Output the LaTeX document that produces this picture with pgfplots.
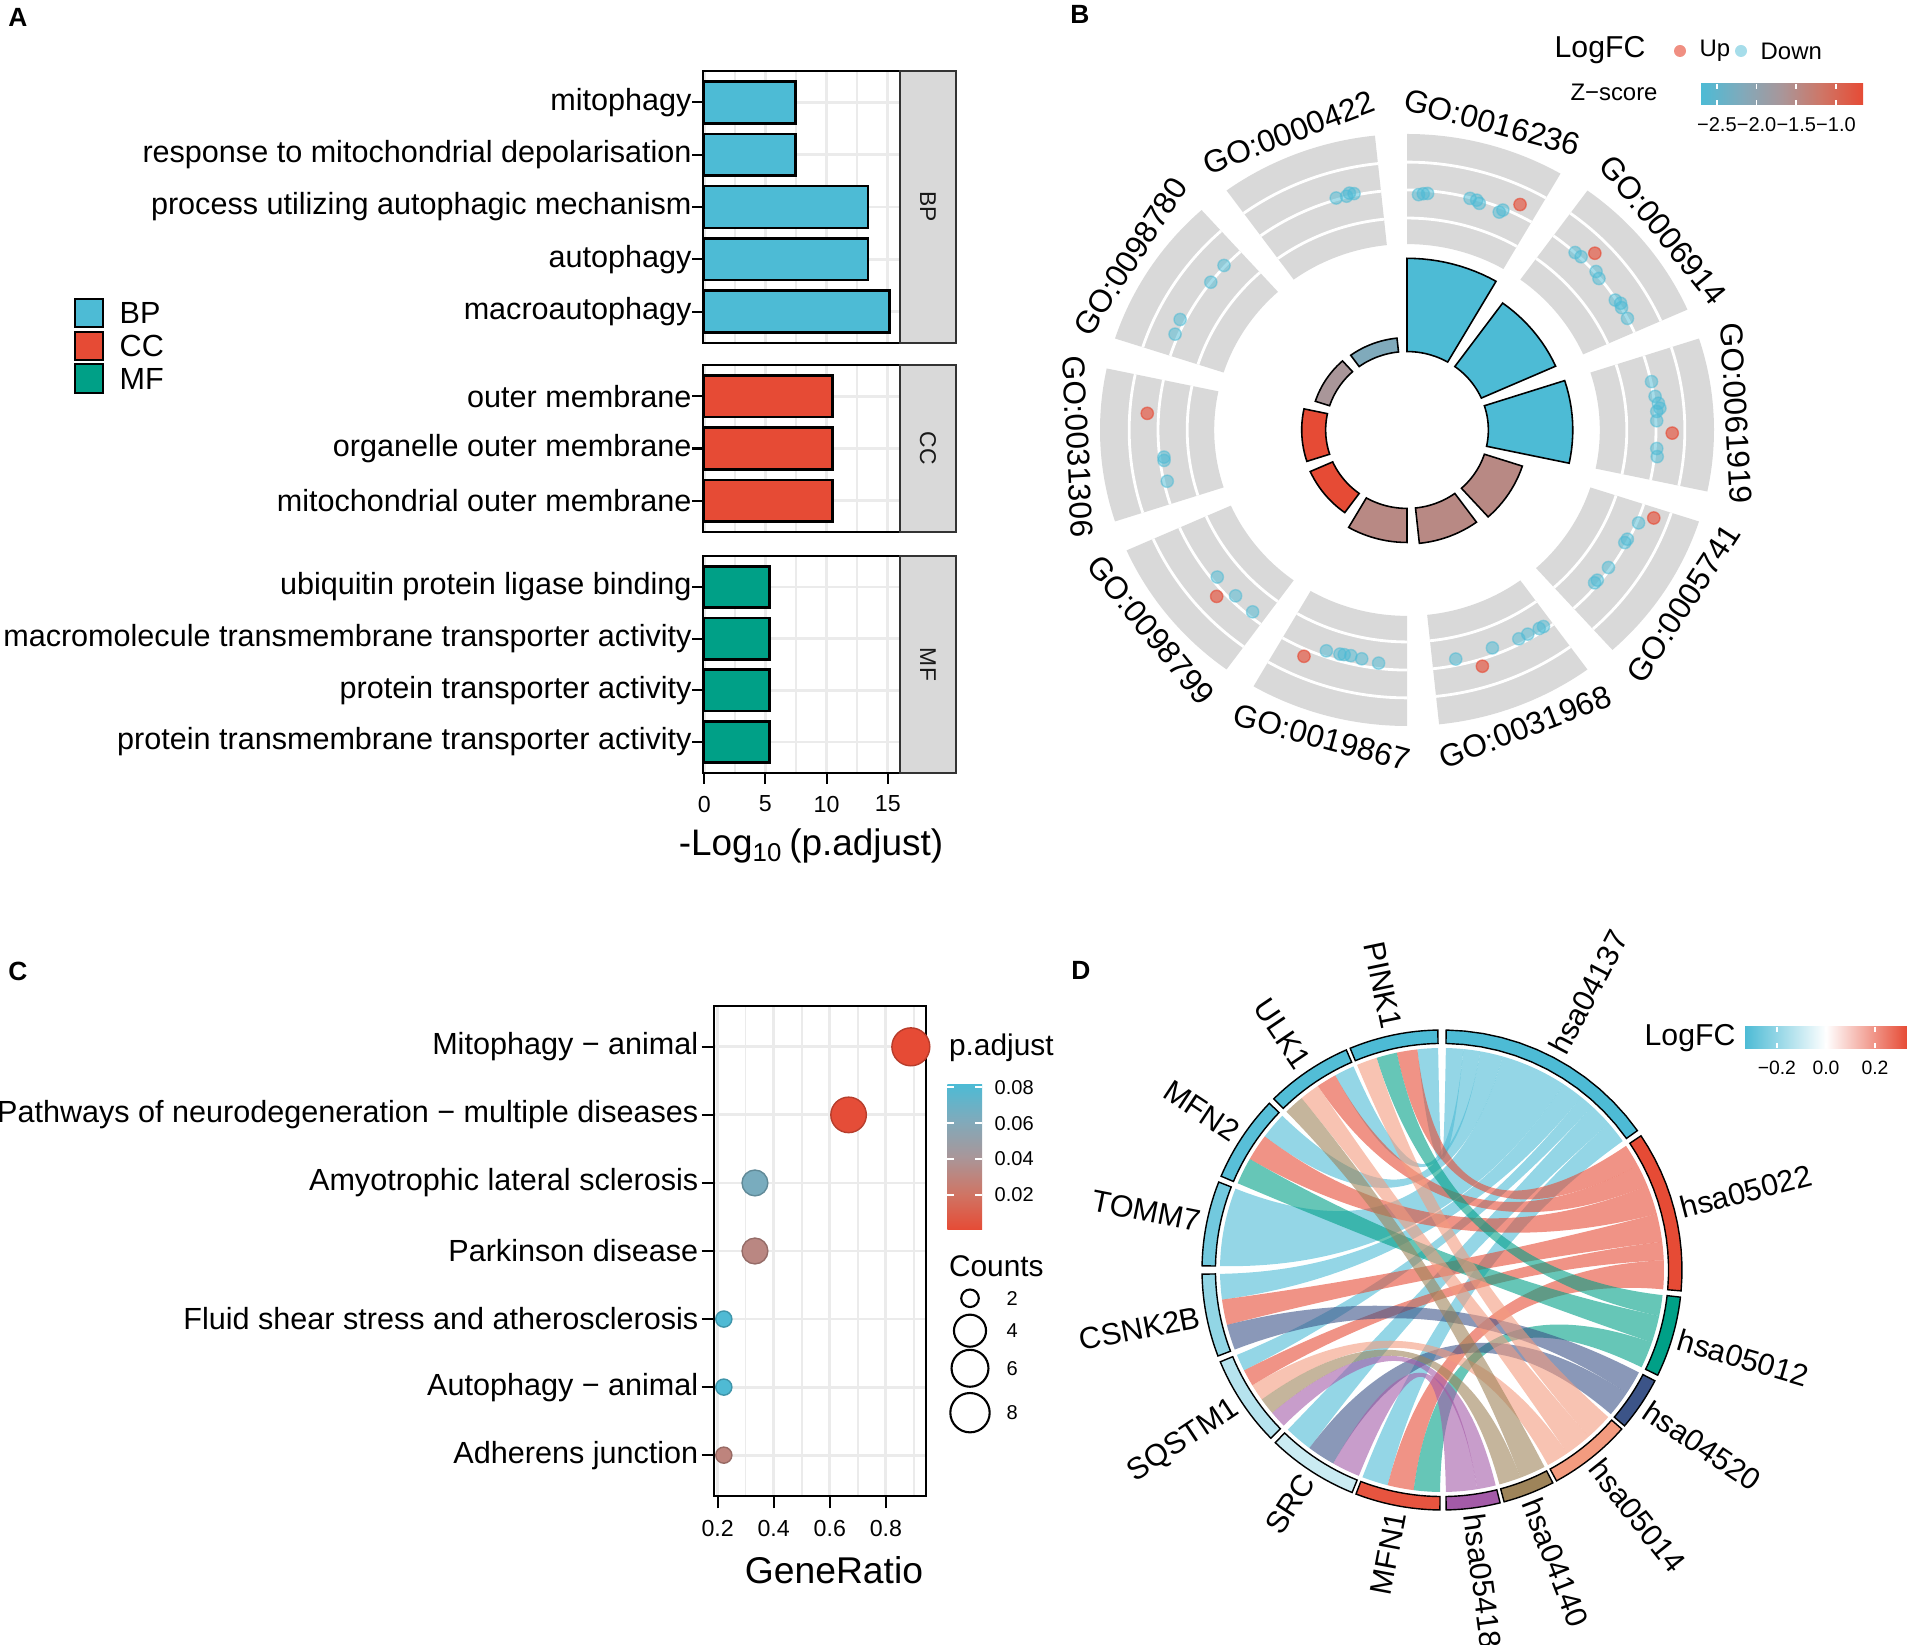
\documentclass[border=0pt]{standalone}
\usepackage{fontspec}
\setmainfont{Liberation Sans}
\usepackage{pgfplots}
\usepackage{pgfplotstable}
\pgfplotsset{compat=1.18}

\newcommand\fs[1]{\fontsize{#1}{#1}\selectfont}

% npg-like palette
\definecolor{npgblue}{HTML}{4DBBD5}
\definecolor{npgred}{HTML}{E64B35}
\definecolor{npggreen}{HTML}{00A087}
\definecolor{npgnavy}{HTML}{3C5488}
\definecolor{npgsalmon}{HTML}{F39B7F}
\definecolor{pathpurple}{HTML}{A45BA8}
\definecolor{pathbrown}{HTML}{9E845A}
\definecolor{gridgrey}{HTML}{EBEBEB}
\definecolor{stripgrey}{HTML}{D9D9D9}
\definecolor{stripline}{HTML}{333333}
\definecolor{ringgrey}{HTML}{D9D9D9}
% gradient stops red -> blue
\definecolor{cmA}{HTML}{E64B35}
\definecolor{cmB}{HTML}{CF7565}
\definecolor{cmC}{HTML}{A99699}
\definecolor{cmD}{HTML}{80AABB}
\definecolor{cmE}{HTML}{4DBBD5}
\colorlet{zrose}{cmB!40!cmC}

\pgfdeclareverticalshading{padjbar}{100bp}{color(0bp)=(cmA); color(25bp)=(cmA); color(37.5bp)=(cmB); color(50bp)=(cmC); color(62.5bp)=(cmD); color(75bp)=(cmE); color(100bp)=(cmE)}
\pgfdeclarehorizontalshading{zbar}{100bp}{color(0bp)=(cmE); color(25bp)=(cmE); color(37.5bp)=(cmD); color(50bp)=(cmC); color(62.5bp)=(cmB); color(75bp)=(cmA); color(100bp)=(cmA)}
\pgfdeclarehorizontalshading{fcbar}{100bp}{color(0bp)=(npgblue); color(25bp)=(npgblue); color(50bp)=(white); color(75bp)=(npgred); color(100bp)=(npgred)}

% KEGG dot plot data
\pgfplotstableread{
ratio row count padj
0.889 1 8 0.0004
0.667 2 6 0.0015
0.333 3 3 0.0640
0.333 4 3 0.0320
0.222 5 2 0.0810
0.222 6 2 0.0810
0.222 7 2 0.0300
}\keggdata

% sector between two angles and two radii, drawn through the axis (data cs=polar)
\newcommand\polarband[5]{%
  \def\bandpts{}%
  \pgfplotsforeachungrouped \ii in {0,...,12}{%
    \pgfmathsetmacro\aa{#2+(#3-#2)*\ii/12}%
    \edef\bandpts{\bandpts (\aa,#5)}}%
  \pgfplotsforeachungrouped \ii in {0,...,12}{%
    \pgfmathsetmacro\aa{#3+(#2-#3)*\ii/12}%
    \edef\bandpts{\bandpts (\aa,#4)}}%
  \edef\next{\noexpand\addplot[data cs=polar,\unexpanded{#1}] coordinates {\bandpts} -- cycle;}%
  \next}

% chord ribbon: gene arc #1-#2, pathway arc #3-#4
\newcommand\ribbon[5]{%
  \fill[#5, fill opacity=0.6] (#1:0.925) arc[start angle=#1, end angle=#2, radius=0.925]
    .. controls (#2:0.308) and (#3:0.308) .. (#3:0.925)
    arc[start angle=#3, end angle=#4, radius=0.925]
    .. controls (#4:0.308) and (#1:0.308) .. cycle;}

\pgfplotsset{
  gg/.style={
    scale only axis,
    axis line style={line width=0.8pt},
    major grid style={line width=0.8pt, draw=gridgrey},
    minor grid style={line width=0.45pt, draw=gridgrey},
    tick align=outside, tick pos=left,
    major tick length=3pt, minor tick length=0pt,
    tick style={line width=0.6pt, black},
    /pgf/number format/assume math mode=true,
    xticklabel style={font=\fs{6.6}},
    yticklabel style={font=\fs{8.7}, xshift=0.115cm},
  },
  gobar/.style={xbar, bar width=0.8, xmin=-0.1, xmax=16, y dir=reverse,
    xtick={0,5,10,15}, minor xtick={2.5,7.5,12.5},
    xmajorgrids, xminorgrids, ymajorgrids},
}

\begin{document}
\begin{tikzpicture}
\path[use as bounding box] (0,0) rectangle (19.07,16.45);

% panel letters
\node[font=\bfseries\fs{7.5}] at (0.18,16.28) {A};
\node[font=\bfseries\fs{7.5}] at (10.80,16.31) {B};
\node[font=\bfseries\fs{7.5}] at (0.18,6.74) {C};
\node[font=\bfseries\fs{7.5}] at (10.81,6.75) {D};

%================ A : GO enrichment bars
\begin{axis}[gg, gobar, at={(7.03cm,15.74cm)}, anchor=north west,
  width=1.97cm, height=2.72cm, ymin=0.4, ymax=5.6,
  xticklabels={}, xtick style={draw=none},
  ytick={1,...,5},
  yticklabels={mitophagy, response to mitochondrial depolarisation,
    process utilizing autophagic mechanism, autophagy, macroautophagy}]
\addplot[fill=npgblue, draw=black, line width=0.7pt]
  coordinates {(7.45,1) (7.45,2) (13.37,3) (13.37,4) (15.13,5)};
\end{axis}

\begin{axis}[gg, gobar, at={(7.03cm,12.80cm)}, anchor=north west,
  width=1.97cm, height=1.67cm, ymin=0.4, ymax=3.6,
  xticklabels={}, xtick style={draw=none},
  ytick={1,2,3},
  yticklabels={outer membrane, organelle outer membrane, mitochondrial outer membrane}]
\addplot[fill=npgred, draw=black, line width=0.7pt]
  coordinates {(10.5,1) (10.5,2) (10.5,3)};
\end{axis}

\begin{axis}[gg, gobar, at={(7.03cm,10.89cm)}, anchor=north west,
  width=1.97cm, height=2.17cm, ymin=0.4, ymax=4.6,
  ytick={1,...,4},
  yticklabels={ubiquitin protein ligase binding,
    macromolecule transmembrane transporter activity,
    protein transporter activity, protein transmembrane transporter activity}]
\addplot[fill=npggreen, draw=black, line width=0.7pt]
  coordinates {(5.33,1) (5.33,2) (5.33,3) (5.33,4)};
\end{axis}

% facet strips
\draw[stripline, line width=0.4pt, fill=stripgrey] (9.00,15.74) rectangle (9.56,13.02);
\draw[stripline, line width=0.4pt, fill=stripgrey] (9.00,12.80) rectangle (9.56,11.13);
\draw[stripline, line width=0.4pt, fill=stripgrey] (9.00,10.89) rectangle (9.56,8.72);
\node[rotate=-90, font=\fs{6.5}, text=black!90] at (9.28,14.38) {BP};
\node[rotate=-90, font=\fs{6.5}, text=black!90] at (9.28,11.965) {CC};
\node[rotate=-90, font=\fs{6.5}, text=black!90] at (9.28,9.805) {MF};

\node[anchor=base, font=\fs{10.5}] at (8.11,7.89) {-Log\textsubscript{10}\,(p.adjust)};

% legend A
\draw[line width=0.6pt, fill=npgblue] (0.75,13.18) rectangle (1.03,13.46);
\draw[line width=0.6pt, fill=npgred] (0.75,12.85) rectangle (1.03,13.13);
\draw[line width=0.6pt, fill=npggreen] (0.75,12.52) rectangle (1.03,12.81);
\node[anchor=west, inner sep=0pt, font=\fs{8.7}] at (1.19,13.32) {BP};
\node[anchor=west, inner sep=0pt, font=\fs{8.7}] at (1.19,12.99) {CC};
\node[anchor=west, inner sep=0pt, font=\fs{8.7}] at (1.19,12.665) {MF};

%================ B : GO circle
\begin{scope}[shift={(14.07,12.15)}, x=3.07cm, y=2.96cm]
  \foreach \a in {90,54,18,-18,-54,-90,-126,-162,-198,-234} {
    \fill[ringgrey] (\a:0.628) -- (\a:1) arc[start angle=\a, end angle={\a-30}, radius=1]
      -- ({\a-30}:0.628) arc[start angle={\a-30}, end angle=\a, radius=0.628] -- cycle;
    \foreach \r in {0.716,0.811,0.905}
      \draw[white, line width=0.8pt] (\a:\r) arc[start angle=\a, end angle={\a-30}, radius=\r];
  }
  \foreach \m/\t in {75/GO:0016236, 39/GO:0006914, 3/GO:0061919, 147/GO:0098780, 111/GO:0000422}
    \node[font=\fs{9}, inner sep=0pt, anchor=south, rotate={\m-90}] at (\m:1.035) {\t};
  \foreach \m/\t in {-33/GO:0005741, -69/GO:0031968, -105/GO:0019867, -141/GO:0098799, -177/GO:0031306}
    \node[font=\fs{9}, inner sep=0pt, anchor=north, rotate={\m+90}] at (\m:1.035) {\t};
\end{scope}

\begin{axis}[hide axis, at={(14.07cm,12.15cm)}, anchor=origin, x=3.07cm, y=2.96cm,
  xmin=-1.2, xmax=1.2, ymin=-1.2, ymax=1.2, clip=false]
  \polarband{fill=npgblue, draw=black, line width=0.45pt}{90}{60}{0.265}{0.58}
  \polarband{fill=npgblue, draw=black, line width=0.45pt}{54}{24}{0.265}{0.53}
  \polarband{fill=npgblue, draw=black, line width=0.45pt}{18}{-12}{0.265}{0.54}
  \polarband{fill=zrose, draw=black, line width=0.45pt}{-18}{-48}{0.265}{0.395}
  \polarband{fill=zrose, draw=black, line width=0.45pt}{-54}{-84}{0.265}{0.385}
  \polarband{fill=zrose, draw=black, line width=0.45pt}{-90}{-120}{0.265}{0.38}
  \polarband{fill=npgred, draw=black, line width=0.45pt}{-126}{-156}{0.265}{0.345}
  \polarband{fill=npgred, draw=black, line width=0.45pt}{-162}{-192}{0.265}{0.343}
  \polarband{fill=cmC, draw=black, line width=0.45pt}{-198}{-228}{0.265}{0.314}
  \polarband{fill=cmD, draw=black, line width=0.45pt}{-234}{-264}{0.265}{0.312}
  % down-regulated genes
  \addplot[data cs=polar, only marks, mark=*, mark size=1.75pt, color=npgblue, opacity=0.5]
    coordinates {
    (87.3,0.796) (86.2,0.800) (85.2,0.802) (75.3,0.809) (73.7,0.809) (72.9,0.801) (67.8,0.795) (67.2,0.806)
    (47.6,0.812) (45.9,0.815) (41.0,0.816) (39.3,0.808) (32.9,0.808) (31.6,0.817) (30.6,0.812) (27.7,0.811)
    (11.6,0.813) (8.0,0.816) (6.3,0.824) (5.1,0.827) (4.4,0.816) (2.2,0.814) (-4.4,0.816) (-6.3,0.820)
    (-22.6,0.817) (-27.2,0.807) (-28.2,0.805) (-35.3,0.804) (-39.3,0.801) (-40.2,0.800)
    (-56.2,0.799) (-57.3,0.797) (-60.3,0.794) (-62.7,0.794) (-69.3,0.787) (-78.4,0.790)
    (-96.7,0.793) (-100.8,0.787) (-103.5,0.784) (-105.1,0.786) (-106.1,0.788) (-109.4,0.791)
    (-141.2,0.793) (-134.9,0.791) (-129.3,0.794)
    (-173.4,0.797) (-172.6,0.798) (-167.5,0.800)
    (137.0,0.815) (142.0,0.811) (153.2,0.828) (156.8,0.822)
    (106.4,0.817) (104.0,0.814) (102.2,0.817) (103.2,0.822)};
  % up-regulated genes
  \addplot[data cs=polar, only marks, mark=*, mark size=1.75pt, color=npgred, opacity=0.62]
    coordinates {
    (64.2,0.846) (44.3,0.855) (-0.7,0.864) (-20.3,0.857) (-72.9,0.835)
    (-113.7,0.835) (-137.8,0.837) (176.2,0.848)};
\end{axis}

% legend B
\node[font=\fs{8.6}] at (16.00,15.95) {LogFC};
\fill[npgred, fill opacity=0.62] (16.80,15.94) circle[radius=0.06];
\node[anchor=west, inner sep=0pt, font=\fs{6.8}] at (16.99,15.94) {Up};
\fill[npgblue, fill opacity=0.5] (17.41,15.94) circle[radius=0.06];
\node[anchor=west, inner sep=0pt, font=\fs{6.8}] at (17.60,15.94) {Down};
\node[font=\fs{6.8}] at (16.14,15.53) {Z−score};
\shade[shading=zbar] (17.01,15.40) rectangle (18.63,15.61);
\foreach \x/\t in {17.169/−2.5, 17.566/−2.0, 17.963/−1.5, 18.360/−1.0} {
  \draw[white, line width=0.5pt] (\x,15.40) -- ++(0,0.05) (\x,15.61) -- ++(0,-0.05);
  \node[font=\fs{5.7}, inner sep=0pt] at (\x,15.20) {\t};
}

%================ C : KEGG dot plot
\begin{axis}[gg, at={(7.14cm,6.39cm)}, anchor=north west, width=2.12cm, height=4.90cm,
  xmin=0.187, xmax=0.943, ymin=0.4, ymax=7.6, y dir=reverse,
  xtick={0.2,0.4,0.6,0.8}, minor xtick={0.3,0.5,0.7,0.9},
  xmajorgrids, xminorgrids, ymajorgrids,
  major tick length=3.5pt,
  yticklabel style={xshift=-0.025cm},
  xticklabel style={/pgf/number format/fixed, /pgf/number format/precision=1,
    /pgf/number format/fixed zerofill},
  ytick={1,...,7},
  yticklabels={Mitophagy − animal, Pathways of neurodegeneration − multiple diseases,
    Amyotrophic lateral sclerosis, Parkinson disease,
    Fluid shear stress and atherosclerosis, Autophagy − animal, Adherens junction},
  colormap={padj}{rgb255(0cm)=(230,75,53); rgb255(1cm)=(207,117,101);
    rgb255(2cm)=(169,150,153); rgb255(3cm)=(128,170,187); rgb255(4cm)=(77,187,213)},
  point meta min=0.0003, point meta max=0.0817]
\addplot[scatter, only marks, mark=*, point meta=explicit,
  visualization depends on={\thisrow{count} \as \cnt},
  scatter/@pre marker code/.append style={/tikz/mark size={6.43-8.265/\cnt}}]
  table[x=ratio, y=row, meta=padj] {\keggdata};
\end{axis}
\node[anchor=base, font=\fs{10.6}] at (8.34,0.61) {GeneRatio};

% legend C
\node[anchor=west, inner sep=0pt, font=\fs{8.5}] at (9.483,5.97) {p.adjust};
\shade[shading=padjbar] (9.473,4.15) rectangle (9.82,5.607);
\foreach \y/\t in {4.5026/0.02, 4.8606/0.04, 5.2186/0.06, 5.5766/0.08} {
  \draw[white, line width=0.5pt] (9.473,\y) -- ++(0.07,0) (9.82,\y) -- ++(-0.07,0);
  \node[anchor=west, inner sep=0pt, font=\fs{5.7}] at (9.94,\y) {\t};
}
\node[anchor=west, inner sep=0pt, font=\fs{8.5}] at (9.483,3.783) {Counts};
\foreach \y/\r/\t in {3.467/0.0878/2, 3.143/0.1604/4, 2.767/0.1846/6, 2.323/0.1967/8} {
  \draw[line width=0.6pt] (9.70,\y) circle[radius=\r];
  \node[anchor=west, inner sep=0pt, font=\fs{5.7}] at (10.06,\y) {\t};
}

%================ D : chord diagram
\begin{scope}[shift={(14.42,3.75)}, x=2.4cm, y=2.4cm]
  % hsa04137
  \ribbon{91}{96.375}{84.461}{89}{npgblue}
  \ribbon{113.5}{118.75}{80.028}{84.461}{npgblue}
  \ribbon{136}{143}{74.117}{80.028}{npgblue}
  \ribbon{158.5}{179}{56.807}{74.117}{npgblue}
  \ribbon{181}{187.667}{51.178}{56.807}{npgblue}
  \ribbon{202.5}{206.9}{47.463}{51.178}{npgblue}
  \ribbon{226}{233.333}{41.271}{47.463}{npgblue}
  \ribbon{249}{255.833}{35.5}{41.271}{npgblue}
  % hsa05022
  \ribbon{96.375}{101.75}{28.099}{34}{npgred}
  \ribbon{118.75}{124}{22.336}{28.099}{npgred}
  \ribbon{143}{150}{14.651}{22.336}{npgred}
  \ribbon{187.667}{194.333}{7.332}{14.651}{npgred}
  \ribbon{206.9}{211.3}{2.502}{7.332}{npgred}
  \ribbon{255.833}{262.667}{-5}{2.502}{npgred}
  % hsa05012
  \ribbon{101.75}{107.125}{-11.957}{-6.5}{npggreen}
  \ribbon{150}{157}{-19.063}{-11.957}{npggreen}
  \ribbon{262.667}{269.5}{-26}{-19.063}{npggreen}
  % hsa04520
  \ribbon{194.333}{201}{-33.69}{-27.5}{npgnavy}
  \ribbon{233.333}{240.667}{-40.5}{-33.69}{npgnavy}
  % hsa05014
  \ribbon{107.125}{112.5}{-48.655}{-41.5}{npgsalmon}
  \ribbon{124}{129.25}{-55.643}{-48.655}{npgsalmon}
  \ribbon{211.3}{215.7}{-61.5}{-55.643}{npgsalmon}
  % hsa04140
  \ribbon{129.25}{134.5}{-69.3}{-62.5}{pathbrown}
  \ribbon{215.7}{220.1}{-75}{-69.3}{pathbrown}
  % hsa05418
  \ribbon{220.1}{224.5}{-80.875}{-76}{pathpurple}
  \ribbon{240.667}{248}{-89}{-80.875}{pathpurple}
  % labels
  \foreach \m/\t in {101.75/PINK1, 124/ULK1, 146.5/MFN2, 168.75/TOMM7, 191/CSNK2B,
      213.5/SQSTM1, 237/SRC, 259.25/MFN1}
    \node[font=\fs{8.7}, inner sep=0pt, anchor=east, rotate={\m-180}] at (\m:1.025) {\t};
  \foreach \m/\t in {62.25/hsa04137, 14.5/hsa05022, -16.25/hsa05012, -34/hsa04520,
      -51.5/hsa05014, -68.75/hsa04140, -82.5/hsa05418}
    \node[font=\fs{8.7}, inner sep=0pt, anchor=west, rotate=\m] at (\m:1.025) {\t};
\end{scope}

\begin{axis}[hide axis, at={(14.42cm,3.75cm)}, anchor=origin, x=2.4cm, y=2.4cm,
  xmin=-1.2, xmax=1.2, ymin=-1.2, ymax=1.2, clip=false]
  % genes (colour = logFC)
  \polarband{fill=npgblue, draw=black, line width=0.4pt}{91}{112.5}{0.944}{1}
  \polarband{fill=npgblue!97!white, draw=black, line width=0.4pt}{113.5}{134.5}{0.944}{1}
  \polarband{fill=npgblue!94!white, draw=black, line width=0.4pt}{136}{157}{0.944}{1}
  \polarband{fill=npgblue!79!white, draw=black, line width=0.4pt}{158.5}{179}{0.944}{1}
  \polarband{fill=npgblue!61!white, draw=black, line width=0.4pt}{181}{201}{0.944}{1}
  \polarband{fill=npgblue!41!white, draw=black, line width=0.4pt}{202.5}{224.5}{0.944}{1}
  \polarband{fill=npgblue!30!white, draw=black, line width=0.4pt}{226}{248}{0.944}{1}
  \polarband{fill=npgred!95!white, draw=black, line width=0.4pt}{249}{269.5}{0.944}{1}
  % pathways
  \polarband{fill=npgblue, draw=black, line width=0.4pt}{35.5}{89}{0.944}{1}
  \polarband{fill=npgred, draw=black, line width=0.4pt}{-5}{34}{0.944}{1}
  \polarband{fill=npggreen, draw=black, line width=0.4pt}{-26}{-6.5}{0.944}{1}
  \polarband{fill=npgnavy, draw=black, line width=0.4pt}{-40.5}{-27.5}{0.944}{1}
  \polarband{fill=npgsalmon, draw=black, line width=0.4pt}{-61.5}{-41.5}{0.944}{1}
  \polarband{fill=pathbrown, draw=black, line width=0.4pt}{-75}{-62.5}{0.944}{1}
  \polarband{fill=pathpurple, draw=black, line width=0.4pt}{-89}{-76}{0.944}{1}
\end{axis}

% legend D
\node[font=\fs{8.6}] at (16.90,6.07) {LogFC};
\shade[shading=fcbar] (17.45,5.965) rectangle (19.07,6.18);
\foreach \x/\t in {17.769/−0.2, 18.26/0.0, 18.75/0.2} {
  \draw[white, line width=0.5pt] (\x,5.965) -- ++(0,0.05) (\x,6.18) -- ++(0,-0.05);
  \node[font=\fs{5.5}, inner sep=0pt] at (\x,5.77) {\t};
}
\end{tikzpicture}
\end{document}
